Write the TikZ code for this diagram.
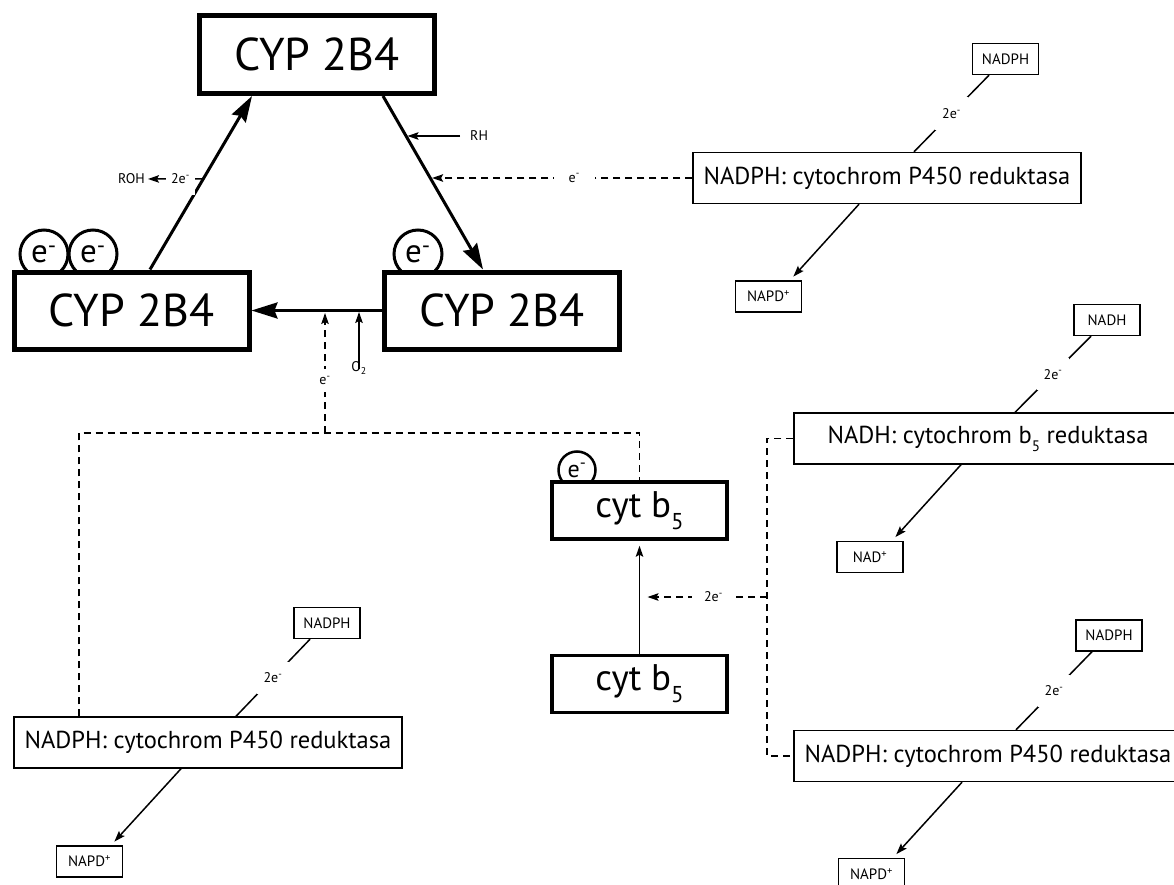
\documentclass[tikz,border=0pt]{standalone}
\usepackage{graphicx}
\usepackage{fontspec}
\setmainfont{PT Sans}
\usetikzlibrary{arrows.meta,calc}
\newcommand{\myfive}{\raisebox{-0.32em}{\scalebox{0.62}{5}}}
\newcommand{\eminus}{e\textsuperscript{-}}
\tikzset{
  cyp/.style={draw, line width=5pt, fill=white, minimum width=235pt, minimum height=77pt, inner sep=0pt, font=\fontsize{46}{50}\selectfont},
  cytb/.style={draw, line width=3.5pt, fill=white, minimum width=175pt, minimum height=57pt, inner sep=0pt, font=\fontsize{37}{40}\selectfont},
  redbox/.style={draw, line width=1.4pt, fill=white, minimum width=388pt, minimum height=51pt, inner sep=0pt, font=\fontsize{24.5}{28}\selectfont},
  smbox/.style={draw, line width=1.4pt, fill=white, minimum width=66pt, minimum height=31pt, inner sep=0pt, font=\fontsize{15}{17}\selectfont},
  lbl/.style={font=\fontsize{14}{16}\selectfont, inner sep=1pt},
  gaplbl/.style={lbl, fill=white, inner xsep=7pt, inner ysep=11pt},
  ecirc/.style={circle, draw, line width=3pt, fill=white, minimum size=48pt, inner sep=0pt, font=\fontsize{33}{35}\selectfont},
  bigarrow/.style={line width=3pt, -{Stealth[length=26pt,width=16pt,inset=3pt]}},
  thintip/.style={-{Stealth[length=11pt,width=7.5pt,inset=2pt]}},
  thinline/.style={line width=1.5pt},
  thinarrow/.style={thinline, thintip},
  dline/.style={line width=1.4pt, dash pattern=on 7pt off 5pt},
}
\begin{document}
\begin{tikzpicture}[x=1pt,y=-1pt]
\useasboundingbox (0,0) rectangle (1174,885);

% electron circles (drawn under the boxes)
\node[ecirc] (c1) at (44,254) {\eminus};
\node[ecirc] (c2) at (93,254) {\eminus};
\node[ecirc] (c3) at (418,254) {\eminus};
\node[ecirc, line width=2.5pt, minimum size=37pt, font=\fontsize{24}{26}\selectfont] (c4) at (577,470) {\eminus};

% CYP 2B4 boxes
\node[cyp, minimum height=78pt] (top) at (317,54.5) {CYP 2B4};
\node[cyp] (left) at (131.5,310.5) {CYP 2B4};
\node[cyp] (right) at (502,310.5) {CYP 2B4};

% cyt b5 boxes
\node[cytb] (b1) at (639.5,510.5) {cyt b\myfive};
\node[cytb] (b2) at (639.5,684) {cyt b\myfive};

% reductase boxes
\node[redbox] (r1) at (887,178) {NADPH: cytochrom P450 reduktasa};
\node[redbox] (r2) at (988,438.5) {NADH: cytochrom b\myfive\ reduktasa};
\node[redbox] (r3) at (988,756) {NADPH: cytochrom P450 reduktasa};
\node[redbox] (r4) at (208,742.5) {NADPH: cytochrom P450 reduktasa};

% small boxes
\node[smbox] (s1) at (1005.5,59) {NADPH};
\node[smbox] (t1) at (768.5,296.5) {NAPD\textsuperscript{+}};
\node[smbox] (s2) at (1107,320) {NADH};
\node[smbox] (t2) at (870,557) {NAD\textsuperscript{+}};
\node[smbox] (s3) at (1109,635.5) {NADPH};
\node[smbox] (t3) at (871.5,874) {NAPD\textsuperscript{+}};
\node[smbox] (s4) at (327,623) {NADPH};
\node[smbox] (t4) at (89.5,861.5) {NAPD\textsuperscript{+}};

% main cycle
\coordinate (p1) at ([xshift=66pt]top.south);
\coordinate (p2) at ([xshift=-19pt]right.north);
\coordinate (q1) at ([xshift=18.5pt]left.north);
\coordinate (q2) at ([xshift=-65pt]top.south);
\draw[bigarrow] (q1) -- (q2);
\draw[bigarrow] (p1) -- (p2);
\draw[bigarrow] (right.west) -- (left.east);

% RH
\coordinate (rhp) at ($(p1)!0.23!(p2)$);
\node[lbl, anchor=west] (rh) at (469,136) {RH};
\draw[thinarrow, shorten <=9pt, shorten >=1.5pt] (rh.west) -- (rh.west -| rhp);

% e- from top right reductase
\coordinate (ep) at ($(p1)!0.471!(p2)$);
\draw[dline, thintip, shorten >=2pt] (r1.west) -- node[gaplbl, pos=0.45, inner xsep=15pt] {\eminus} (r1.west -| ep);

% ROH
\coordinate (rohp) at ($(q1)!0.523!(q2)$);
\node[lbl, anchor=east] (roh) at (146,179) {ROH};
\draw[thinarrow, shorten >=2pt] (rohp) -- node[gaplbl, pos=0.4, inner xsep=5pt] {2\eminus} (roh.east);

% O2
\node[lbl] (o2) at (359,368) {O\textsubscript{2}};
\draw[thinarrow, shorten <=-8pt, shorten >=1.5pt] (o2.north) -- (o2.north |- left.east);

% dashed network on the left
\coordinate (j1) at (325,433);
\draw[dline] ([xshift=-129pt]r4.north) |- (j1) -| (b1.north);
\draw[dline, thintip, shorten >=2.5pt] (j1) -- node[gaplbl, pos=0.43, inner ysep=7pt] {\eminus} (j1 |- left.east);

% dashed network on the right
\coordinate (k1) at (767,597);
\draw[dline] (r2.west) -| (k1) |- (r3.west);
\draw[dline, thintip, shorten >=8pt] (k1) -- node[gaplbl, pos=0.42, inner xsep=12pt] {2\eminus} (k1 -| b2.north);
\draw[thinarrow, shorten >=5pt] (b2.north) -- (b1.south);

% reductase feeds
\draw[thinline] ([xshift=-16.5pt]s1.south) -- node[gaplbl] {2\eminus} ([xshift=27pt]r1.north);
\draw[thinarrow, shorten >=5pt] ([xshift=-28pt]r1.south) -- ([xshift=21.5pt]t1.north);
\draw[thinline] ([xshift=-16pt]s2.south) -- node[gaplbl] {2\eminus} ([xshift=27pt]r2.north);
\draw[thinarrow, shorten >=5pt] ([xshift=-27pt]r2.south) -- ([xshift=22pt]t2.north);
\draw[thinline] ([xshift=-17pt]s3.south) -- node[gaplbl] {2\eminus} ([xshift=28pt]r3.north);
\draw[thinarrow, shorten >=5pt] ([xshift=-26pt]r3.south) -- ([xshift=21.5pt]t3.north);
\draw[thinline] ([xshift=-17pt]s4.south) -- node[gaplbl] {2\eminus} ([xshift=28pt]r4.north);
\draw[thinarrow, shorten >=5pt] ([xshift=-27pt]r4.south) -- ([xshift=21.5pt]t4.north);
\end{tikzpicture}
\end{document}
